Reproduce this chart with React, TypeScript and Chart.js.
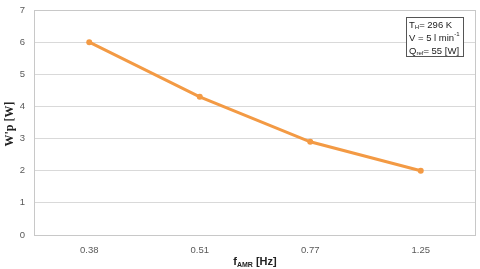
import React, { useEffect, useRef } from "react";
import { Chart, registerables } from "chart.js";

Chart.register(...registerables);

const categories = ["0.38", "0.51", "0.77", "1.25"];
const powerValues = [6.0, 4.3, 2.9, 2.0];
const yTicks = [0, 1, 2, 3, 4, 5, 6, 7];

type Seg = { t: string; mode?: "sub" | "sup" };
const boxLines: Seg[][] = [
  [{ t: "T" }, { t: "H", mode: "sub" }, { t: "= 296 K" }],
  [{ t: "V = 5 l min" }, { t: "-1", mode: "sup" }],
  [{ t: "Q" }, { t: "ref", mode: "sub" }, { t: "= 55 [W]" }],
];

const FONT = "'Liberation Sans', Arial, sans-serif";

function drawSegs(ctx: CanvasRenderingContext2D, segs: Seg[], x: number, y: number, size: number, bold: boolean) {
  let cx = x;
  for (const s of segs) {
    const sz = s.mode ? Math.round(size * 0.65) : size;
    ctx.font = `${bold ? "bold " : ""}${sz}px ${FONT}`;
    const dy = s.mode === "sub" ? size * 0.25 : s.mode === "sup" ? -size * 0.35 : 0;
    ctx.fillText(s.t, cx, y + dy);
    cx += ctx.measureText(s.t).width;
  }
  return cx - x;
}

function measureSegs(ctx: CanvasRenderingContext2D, segs: Seg[], size: number, bold: boolean) {
  let w = 0;
  for (const s of segs) {
    const sz = s.mode ? Math.round(size * 0.65) : size;
    ctx.font = `${bold ? "bold " : ""}${sz}px ${FONT}`;
    w += ctx.measureText(s.t).width;
  }
  return w;
}

const decorPlugin = {
  id: "decor",
  beforeDatasetsDraw(chart: any) {
    const { ctx, chartArea: a } = chart;
    ctx.save();
    ctx.strokeStyle = "#c8c8c8";
    ctx.lineWidth = 1;
    ctx.strokeRect(a.left + 0.5, a.top + 0.5, a.right - a.left - 1, a.bottom - a.top);
    ctx.restore();
  },
  afterDraw(chart: any) {
    const { ctx, chartArea: a } = chart;
    ctx.save();
    // y title
    ctx.fillStyle = "#222";
    ctx.translate(10, 124);
    ctx.rotate(-Math.PI / 2);
    ctx.textAlign = "center";
    ctx.textBaseline = "middle";
    ctx.font = `bold 12px 'Liberation Serif', 'Times New Roman', serif`;
    ctx.fillText("W'p [W]", 0, 0);
    ctx.restore();

    // x title
    ctx.save();
    ctx.fillStyle = "#222";
    ctx.textBaseline = "middle";
    ctx.textAlign = "left";
    const xt: Seg[] = [{ t: "f" }, { t: "AMR", mode: "sub" }, { t: " [Hz]" }];
    const w = measureSegs(ctx, xt, 11, true);
    drawSegs(ctx, xt, (a.left + a.right) / 2 - w / 2, 262, 11, true);
    ctx.restore();

    // info box
    ctx.save();
    const bx = 406, by = 17, bw = 57, bh = 39;
    ctx.fillStyle = "#fff";
    ctx.fillRect(bx, by, bw, bh);
    ctx.strokeStyle = "#555";
    ctx.lineWidth = 1;
    ctx.strokeRect(bx + 0.5, by + 0.5, bw, bh);
    ctx.fillStyle = "#222";
    ctx.textBaseline = "middle";
    ctx.textAlign = "left";
    boxLines.forEach((line, i) => {
      drawSegs(ctx, line, 409, 25 + i * 13, 9.5, false);
    });
    ctx.restore();
  },
};

export default function App() {
  const ref = useRef<HTMLCanvasElement>(null);
  useEffect(() => {
    document.body.style.margin = "0";
    const chart = new Chart(ref.current!, {
      type: "line",
      data: {
        labels: categories,
        datasets: [
          {
            data: powerValues,
            borderColor: "#f39a44",
            backgroundColor: "#f39a44",
            borderWidth: 3,
            pointRadius: 3,
            pointBorderWidth: 0,
            pointBackgroundColor: "#f39a44",
            tension: 0,
          },
        ],
      },
      options: {
        animation: false,
        responsive: false,
        maintainAspectRatio: false,
        devicePixelRatio: 1,
        layout: { padding: { top: 10, right: 3, left: 0, bottom: 0 } },
        plugins: { legend: { display: false }, tooltip: { enabled: false }, title: { display: false } },
        scales: {
          x: {
            type: "category",
            offset: true,
            grid: { display: false, drawTicks: false },
            border: { display: false },
            ticks: { color: "#595959", font: { size: 9.5, family: FONT }, padding: 10 },
            afterFit(scale: any) {
              scale.height = 34;
              scale.paddingLeft = 0;
              scale.paddingRight = 0;
            },
          },
          y: {
            min: 0,
            max: 7,
            afterBuildTicks(scale: any) {
              scale.ticks = yTicks.map((v) => ({ value: v }));
            },
            grid: { color: "#d9d9d9", drawTicks: false },
            border: { display: false },
            ticks: { color: "#595959", font: { size: 9.5, family: FONT }, padding: 9 },
            afterFit(scale: any) {
              scale.width = 34;
              scale.paddingTop = 0;
              scale.paddingBottom = 0;
            },
          },
        },
      },
      plugins: [decorPlugin],
    } as any);
    return () => chart.destroy();
  }, []);
  return (
    <div style={{ width: 480, height: 269 }}>
      <canvas ref={ref} width={480} height={269} style={{ display: "block" }} />
    </div>
  );
}
